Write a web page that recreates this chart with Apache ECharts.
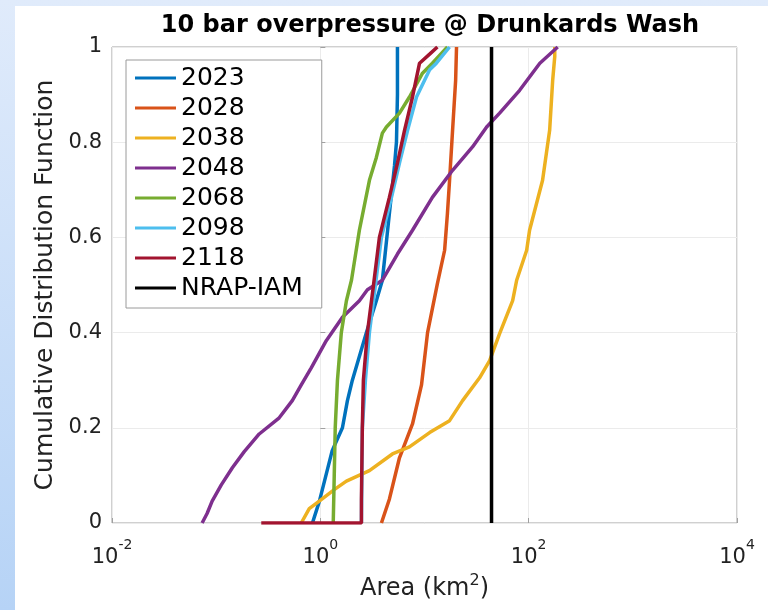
<!DOCTYPE html>
<html><head><meta charset="utf-8">
<script src="https://cdn.jsdelivr.net/npm/echarts@6/dist/echarts.min.js"></script>
<style>
html,body{margin:0;padding:0;width:768px;height:610px;overflow:hidden;background:linear-gradient(to bottom,#e0ebfb,#b6d3f6);}
#panel{position:absolute;left:15px;top:6px;right:0;bottom:0;background:#fff;}
#chart{position:absolute;left:0;top:0;width:768px;height:610px;}
</style></head><body><div id="panel"></div><div id="chart"></div>
<script>
// ---- data (area in km^2, cumulative probability) ----
const seriesNames = ['2023', '2028', '2038', '2048', '2068', '2098', '2118', 'NRAP-IAM'];
const seriesColors = ['#0072BD', '#D95319', '#EDB120', '#7E2F8E', '#77AC30', '#4DBEEE', '#A2142F', '#000000'];

const area2023 = [0.84, 0.98, 1.30, 1.63, 1.82, 2.03, 2.77, 3.45, 3.94, 4.6, 5.15, 5.38, 5.5, 5.5];
const cdf2023  = [0, 0.046, 0.152, 0.2, 0.257, 0.3, 0.4, 0.467, 0.51, 0.65, 0.75, 0.8, 0.9, 1.0];

const area2028 = [3.86, 4.60, 5.75, 7.67, 9.36, 10.7, 13.3, 15.6, 16.6, 17.4, 18.6, 19.9, 20.3];
const cdf2028  = [0, 0.05, 0.137, 0.208, 0.29, 0.4, 0.503, 0.573, 0.65, 0.72, 0.825, 0.93, 1.0];

const area2038 = [0.656, 0.783, 0.977, 1.36, 1.78, 2.96, 4.92, 7.17, 11.2, 17.4, 23.2, 33.8, 42.2, 52.6, 70.2, 76.7, 95.7, 102, 136, 159, 170, 178, 178];
const cdf2038  = [0, 0.03, 0.046, 0.07, 0.088, 0.11, 0.145, 0.16, 0.19, 0.215, 0.257, 0.305, 0.341, 0.398, 0.467, 0.51, 0.573, 0.615, 0.72, 0.825, 0.93, 0.98, 1.0];

const area2048 = [0.0733, 0.0818, 0.0915, 0.112, 0.143, 0.186, 0.259, 0.403, 0.538, 0.656, 0.818, 1.14, 1.63, 2.37, 2.83, 3.94, 5.50, 7.67, 11.9, 18.6, 28.9, 39.5, 52.6, 81.9, 128, 190];
const cdf2048  = [0, 0.02, 0.046, 0.08, 0.116, 0.15, 0.187, 0.221, 0.257, 0.29, 0.326, 0.383, 0.432, 0.467, 0.49, 0.51, 0.565, 0.615, 0.684, 0.741, 0.79, 0.832, 0.861, 0.909, 0.966, 1.0];

const area2068 = [1.33, 1.36, 1.39, 1.46, 1.59, 1.78, 1.99, 2.37, 2.96, 3.45, 3.94, 4.31, 5.75, 7.17, 9.57, 11.9, 16.6];
const cdf2068  = [0, 0.1, 0.2, 0.3, 0.4, 0.467, 0.51, 0.615, 0.72, 0.768, 0.819, 0.832, 0.861, 0.895, 0.945, 0.966, 1.0];

const area2098 = [2.48, 2.53, 2.71, 2.96, 3.38, 3.86, 4.82, 5.75, 6.88, 8.38, 11.2, 13.0, 17.4];
const cdf2098  = [0, 0.2, 0.3, 0.4, 0.5, 0.6, 0.684, 0.756, 0.825, 0.895, 0.952, 0.966, 1.0];

const area2118 = [0.271, 2.48, 2.48, 2.53, 2.59, 2.83, 3.24, 3.69, 4.60, 5.50, 6.43, 7.67, 8.96, 11.2, 13.3];
const cdf2118  = [0, 0, 0.05, 0.2, 0.3, 0.4, 0.5, 0.6, 0.684, 0.756, 0.825, 0.895, 0.966, 0.985, 1.0];

const areaNRAP = [44, 44];
const cdfNRAP  = [0, 1];

const xTickExponents = [-2, 0, 2, 4];
const yTicks = [0, 0.2, 0.4, 0.6, 0.8, 1];

const allArea = [area2023, area2028, area2038, area2048, area2068, area2098, area2118, areaNRAP];
const allCdf  = [cdf2023, cdf2028, cdf2038, cdf2048, cdf2068, cdf2098, cdf2118, cdfNRAP];

// ---- chart ----
const FONT = 'DejaVu Sans';
const chart = echarts.init(document.getElementById('chart'), null, {renderer: 'canvas'});
const series = seriesNames.map((name, k) => ({
  name: name,
  type: 'line',
  data: allArea[k].map((a, i) => [Math.log10(a), allCdf[k][i]]),
  showSymbol: false,
  symbol: 'none',
  lineStyle: {color: seriesColors[k], width: 3.5},
  itemStyle: {color: seriesColors[k]},
  z: 2 + k
}));

chart.setOption({
  animation: false,
  backgroundColor: 'transparent',
  title: {
    text: '10 bar overpressure @ Drunkards Wash',
    left: 425, top: 9, textAlign: 'center',
    textStyle: {fontFamily: FONT, fontWeight: 'bold', fontSize: 24, color: '#000'}
  },
  grid: {left: 112, right: 31, top: 47, bottom: 87, show: true, borderColor: '#a0a0a0', borderWidth: 1, backgroundColor: '#fff'},
  legend: {
    data: seriesNames, orient: 'vertical', left: 126, top: 60,
    icon: 'rect', itemWidth: 41, itemHeight: 3, itemGap: 0,
    padding: [3, 19, 5, 9],
    borderColor: '#9a9a9a', borderWidth: 1, backgroundColor: '#fff',
    selectedMode: false,
    textStyle: {fontFamily: FONT, fontSize: 25, color: '#000', lineHeight: 30}
  },
  xAxis: {
    type: 'value', min: xTickExponents[0], max: xTickExponents[xTickExponents.length - 1], interval: 2,
    name: 'Area (km{s|2})', nameLocation: 'middle', nameGap: 51,
    nameTextStyle: {
      rich: {
        s: {fontFamily: FONT, fontSize: 16, color: '#222', lineHeight: 16, verticalAlign: 'top'}
      },
      fontFamily: FONT, fontSize: 24, color: '#222', lineHeight: 32, verticalAlign: 'bottom'
    },
    axisLine: {show: false},
    axisTick: {show: true, inside: true, length: 5, lineStyle: {color: '#a0a0a0'}},
    splitLine: {show: true, lineStyle: {color: '#ebebeb', width: 1}},
    axisLabel: {
      margin: 15,
      formatter: v => '{b|10}{s|' + v + '}',
      rich: {
        b: {fontFamily: FONT, fontSize: 21, color: '#222', lineHeight: 30, verticalAlign: 'bottom'},
        s: {fontFamily: FONT, fontSize: 14, color: '#222', lineHeight: 14, verticalAlign: 'top'}
      }
    }
  },
  yAxis: {
    type: 'value', min: yTicks[0], max: yTicks[yTicks.length - 1], interval: 0.2,
    name: 'Cumulative Distribution Function', nameLocation: 'middle', nameGap: 50,
    nameTextStyle: {fontFamily: FONT, fontSize: 25, color: '#222'},
    axisLine: {show: false},
    axisTick: {show: true, inside: true, length: 5, lineStyle: {color: '#a0a0a0'}},
    splitLine: {show: true, lineStyle: {color: '#ebebeb', width: 1}},
    axisLabel: {margin: 10, fontFamily: FONT, fontSize: 21, color: '#222'}
  },
  series: series
});
</script></body></html>
